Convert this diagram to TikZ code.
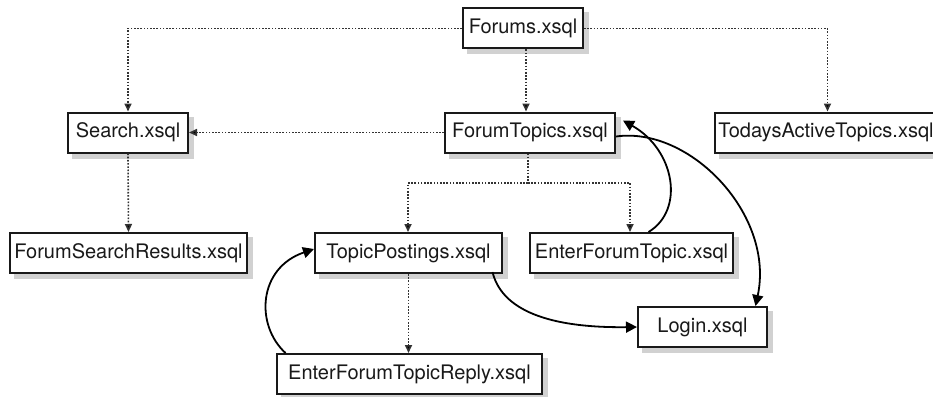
\documentclass[tikz,border=0pt]{standalone}
\usepackage{fontspec}
\setmainfont{TeX Gyre Heros}
\usetikzlibrary{arrows.meta,calc}
\pgfdeclarelayer{bg}
\pgfsetlayers{bg,main}
\begin{document}
\begin{tikzpicture}[x=1pt,y=-1pt,
  box/.style={draw=black!90,line width=2pt,fill=white,minimum height=40pt,inner sep=0pt,
    font=\fontsize{20}{22}\selectfont,text=black!90},
  shadowbox/.style={fill=black!18,draw=none},
  dotarrow/.style={draw=black!80,line width=1.6pt,dash pattern=on 1.6pt off 1.6pt,
    -{Triangle[width=7pt,length=8pt,fill=black]}},
  dotline/.style={draw=black!80,line width=1.6pt,dash pattern=on 1.6pt off 1.6pt},
  solidarrow/.style={draw=black,line width=1.8pt,-{Triangle[width=11pt,length=11pt]}}]
\useasboundingbox (0,0) rectangle (933,396);
\node[box,minimum width=120pt] (forums) at (523,28.5) {Forums.xsql};
\node[box,minimum width=120pt] (search) at (128,132.5) {Search.xsql};
\node[box,minimum width=170pt] (ft) at (530,132.5) {ForumTopics.xsql};
\node[box,minimum width=222pt] (todays) at (826,132.5) {TodaysActiveTopics.xsql};
\node[box,minimum width=237pt] (fsr) at (128.5,253) {ForumSearchResults.xsql};
\node[box,minimum width=187pt] (tp) at (408.5,253) {TopicPostings.xsql};
\node[box,minimum width=203pt] (eft) at (631.5,253) {EnterForumTopic.xsql};
\node[box,minimum width=129pt] (login) at (702.5,327) {Login.xsql};
\node[box,minimum width=265pt] (eftr) at (409.5,374) {EnterForumTopicReply.xsql};
\begin{pgfonlayer}{bg}
\foreach \n in {forums,search,ft,todays,fsr,tp,eft,login,eftr}{
  \fill[shadowbox] ($(\n.north west)+(5,5)$) rectangle ($(\n.south east)+(5,5)$);
}
\end{pgfonlayer}
\coordinate (junc) at (528,183);
% dotted connectors
\draw[dotarrow] (forums.west) -| (search.north);
\draw[dotarrow] (forums.east) -| ([xshift=1.5pt]todays.north);
\draw[dotarrow] ([xshift=3pt]forums.south) -- ([xshift=-4pt]ft.north);
\draw[dotarrow] (ft.west) -- (search.east);
\draw[dotarrow] (search.south) -- (fsr.north);
\draw[dotline] ([xshift=-2pt]ft.south) -- (junc);
\draw[dotarrow] (junc) -| ([xshift=-0.5pt]tp.north);
\draw[dotarrow] (junc) -| ([xshift=-1.5pt]eft.north);
\draw[dotarrow] (tp.south) -- ([xshift=-1pt]eftr.north);
% solid curves
\draw[solidarrow] ([yshift=-4pt]ft.east) .. controls (690,126) and (775,215) .. ([xshift=53pt]login.north);
\draw[solidarrow] ([xshift=17pt]eft.north) .. controls (685,210) and (675,150) .. ([xshift=7pt,yshift=12pt]ft.east);
\draw[solidarrow] ([xshift=84pt,yshift=2pt]tp.south) .. controls (503,315) and (560,328) .. (login.west);
\draw[solidarrow] ([xshift=-124pt]eftr.north) .. controls (255,325) and (258,268) .. ([yshift=4pt]tp.west);
\end{tikzpicture}
\end{document}
